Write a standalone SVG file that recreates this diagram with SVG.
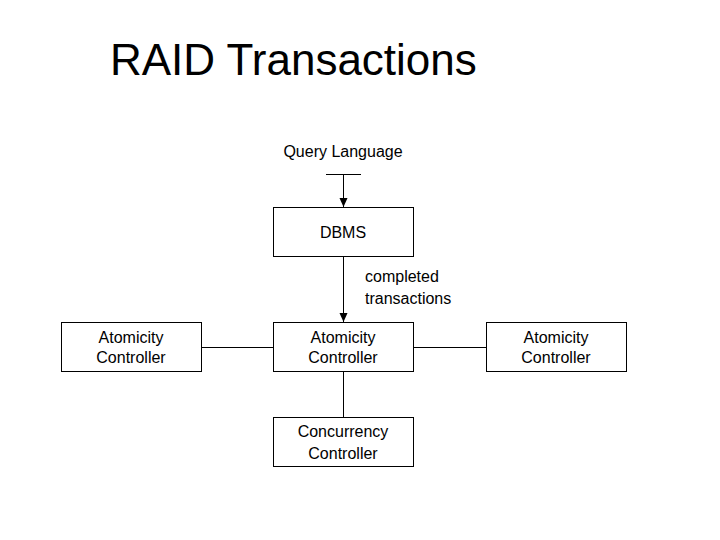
<svg xmlns="http://www.w3.org/2000/svg" width="720" height="540" viewBox="0 0 720 540">
<style>
.b{fill:#fff;stroke:#000;stroke-width:1}
.t{font-family:"Liberation Sans",Arial,sans-serif;font-size:16px;fill:#000;text-anchor:middle}
.s{font-family:"Liberation Sans",Arial,sans-serif;font-size:16px;fill:#000;text-anchor:start}
.l{stroke:#000;stroke-width:1;fill:none}
</style>
<defs>
<marker id="ar" markerWidth="10" markerHeight="10" refX="9" refY="4" orient="auto" markerUnits="userSpaceOnUse"><path d="M0,0 L9,4 L0,8 Z" fill="#000"/></marker></defs>
<rect width="720" height="540" fill="#fff"/>
<text x="110" y="75" font-family="'Liberation Sans',Arial,sans-serif" font-size="44">RAID Transactions</text>
<text class="t" x="343" y="157">Query Language</text>
<g id="connectors">
<line class="l" x1="326" y1="174.5" x2="361" y2="174.5"/>
<line class="l" x1="343.5" y1="174" x2="343.5" y2="207" stroke-width="1.5" marker-end="url(#ar)"/>
<line class="l" x1="343.5" y1="256" x2="343.5" y2="322" stroke-width="1.5" marker-end="url(#ar)"/>
<line class="l" x1="201" y1="347.5" x2="273" y2="347.5"/>
<line class="l" x1="414" y1="347.5" x2="486" y2="347.5"/>
<line class="l" x1="343.5" y1="371" x2="343.5" y2="417"/>
</g>
<text class="s" x="365" y="282">completed</text>
<text class="s" x="365" y="304">transactions</text>
<g id="dbms"><rect class="b" x="273.5" y="207.5" width="140" height="49"/><text class="t" x="343" y="238">DBMS</text></g>
<g id="ac-left"><rect class="b" x="61.5" y="322.5" width="140" height="49"/><text class="t" x="131" y="343">Atomicity</text><text class="t" x="131" y="363">Controller</text></g>
<g id="ac-mid"><rect class="b" x="273.5" y="322.5" width="140" height="49"/><text class="t" x="343" y="343">Atomicity</text><text class="t" x="343" y="363">Controller</text></g>
<g id="ac-right"><rect class="b" x="486.5" y="322.5" width="140" height="49"/><text class="t" x="556" y="343">Atomicity</text><text class="t" x="556" y="363">Controller</text></g>
<g id="cc"><rect class="b" x="273.5" y="417.5" width="140" height="49"/><text class="t" x="343" y="437">Concurrency</text><text class="t" x="343" y="459">Controller</text></g>
</svg>
